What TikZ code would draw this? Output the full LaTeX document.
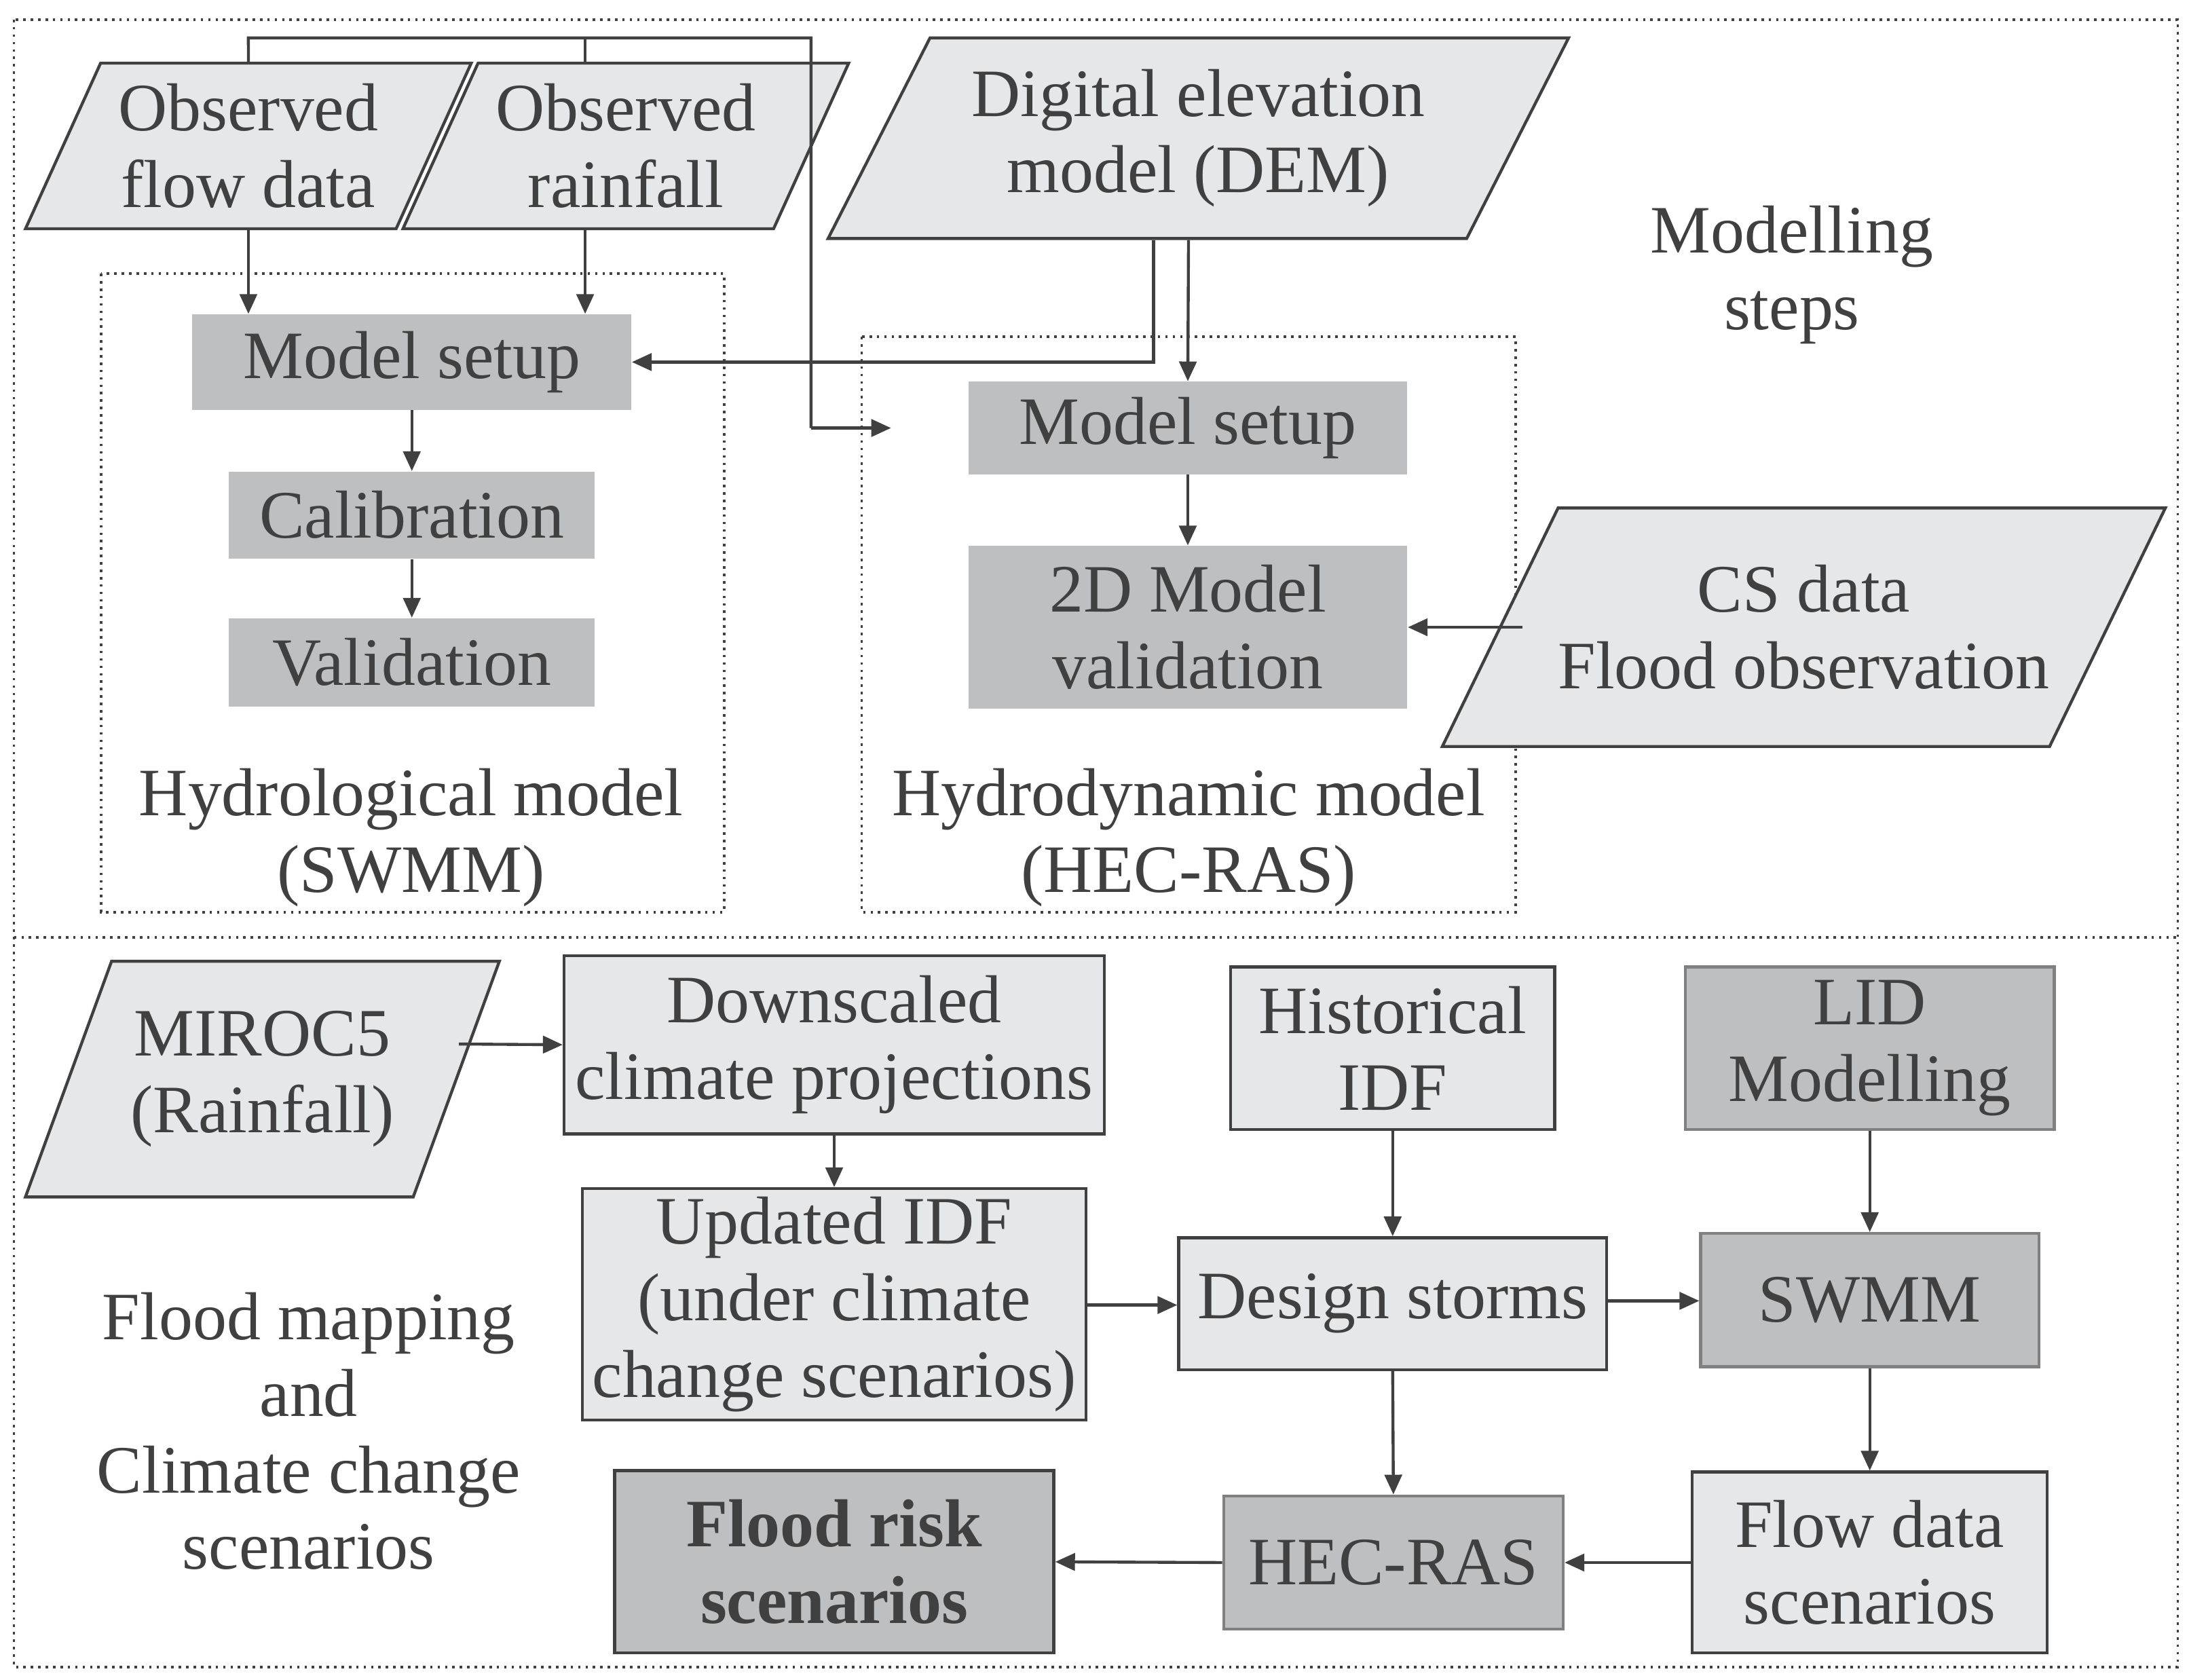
\documentclass[tikz,border=0pt]{standalone}
\usepackage{fontspec}
\setmainfont{Liberation Serif}
\usetikzlibrary{shapes.geometric,arrows.meta}
\definecolor{lg}{HTML}{E6E7E9}
\definecolor{dg}{HTML}{BEBFC1}
\definecolor{ln}{HTML}{404040}
\begin{document}
\begin{tikzpicture}[x=0.02cm,y=-0.02cm,
  every node/.style={font=\fontsize{27.5}{31}\selectfont, text=ln, align=center, inner sep=0pt},
  top/.style={rectangle, fill=dg},
  lbox/.style={rectangle, fill=lg, draw=ln, line width=1.2pt},
  dbox/.style={rectangle, fill=dg, draw=gray, line width=1.2pt},
  para/.style={trapezium, trapezium stretches=true, fill=lg, draw=ln, line width=1.2pt},
  arr/.style={draw=ln, line width=1.2pt, -{Triangle[length=8pt,width=7pt]}},
  ln/.style={draw=ln, line width=1.2pt},
  dot/.style={draw=ln, line width=1pt, dotted}]
\useasboundingbox (0,0) rectangle (1560,1197);
\draw[dot] (10,14) rectangle (1552,1188);
\draw[dot] (10,668) -- (1552,668);
\draw[dot] (72,195) rectangle (516,650);
\draw[dot] (614,240) rectangle (1080,650);
% top
\node[para, trapezium left angle=62, trapezium right angle=118, minimum width=6.36cm, minimum height=2.36cm] (flow) at (177,104) {Observed\\flow data};
\node[para, trapezium left angle=62, trapezium right angle=118, minimum width=6.36cm, minimum height=2.36cm] (rain) at (446,104) {Observed\\rainfall};
\node[para, trapezium left angle=58, trapezium right angle=122, minimum width=10.56cm, minimum height=2.86cm] (dem) at (854,98.5) {Digital elevation\\model (DEM)};
\node[para, trapezium left angle=47, trapezium right angle=133, minimum width=10.3cm, minimum height=3.4cm] (cs) at (1285.5,447) {CS data\\Flood observation};
\node[top, minimum width=6.26cm, minimum height=1.36cm] (ms1) at (293.5,258) {Model setup};
\node[top, minimum width=5.22cm, minimum height=1.24cm] (cal) at (293.5,367) {Calibration};
\node[top, minimum width=5.22cm, minimum height=1.26cm] (val) at (293.5,472) {Validation};
\node[top, minimum width=6.26cm, minimum height=1.32cm] (ms2) at (846.5,305) {Model setup};
\node[top, minimum width=6.26cm, minimum height=2.32cm] (v2d) at (846.5,447) {2D Model\\validation};
\node (hyd) at (293,597) {Hydrological model\\(SWMM)};
\node (hdy) at (847,597) {Hydrodynamic model\\(HEC-RAS)};
\node (ms) at (1277,196) {Modelling\\steps};
\coordinate (tr) at (635,305);
\draw[ln] (flow.north) -- (177,27) -- (578,27) -- (578,305);
\draw[ln] (417,27) -- (417,0 |- rain.north);
\draw[arr] (578,305) -- (tr);
\draw[arr] (flow.south) -- (flow.south |- ms1.north);
\draw[arr] (417,0 |- rain.south) -- (417,0 |- ms1.north);
\draw[arr] (822,0 |- dem.south) -- (822,258) -- (ms1.east);
\draw[arr] (847,0 |- dem.south) -- (ms2.north);
\draw[arr] (ms1.south) -- (cal.north);
\draw[arr] (cal.south) -- (val.north);
\draw[arr] (ms2.south) -- (v2d.north);
\draw[arr] (1085,447) -- (v2d.east);
% bottom
\node[para, trapezium left angle=61, trapezium right angle=119, minimum width=6.76cm, minimum height=3.36cm] (miroc) at (187,769) {MIROC5\\(Rainfall)};
\node[lbox, minimum width=7.7cm, minimum height=2.54cm] (down) at (594.5,744.5) {Downscaled\\climate projections};
\node[lbox, minimum width=7.18cm, minimum height=3.3cm] (upd) at (594.5,929.5) {Updated IDF\\(under climate\\change scenarios)};
\node[lbox, minimum width=4.62cm, minimum height=2.32cm] (hist) at (992.5,747) {Historical\\IDF};
\node[dbox, minimum width=5.26cm, minimum height=2.32cm] (lid) at (1332.5,747) {LID\\Modelling};
\node[lbox, minimum width=6.1cm, minimum height=1.88cm] (des) at (992.5,929) {Design storms};
\node[dbox, minimum width=4.82cm, minimum height=1.9cm] (swmm) at (1332.5,926.5) {SWMM};
\node[lbox, minimum width=5.06cm, minimum height=2.58cm] (fds) at (1332.5,1113.5) {Flow data\\scenarios};
\node[dbox, minimum width=4.84cm, minimum height=1.9cm] (hec) at (993,1113.5) {HEC-RAS};
\node[dbox, draw=ln, minimum width=6.26cm, minimum height=2.6cm, font=\fontsize{27.5}{31}\selectfont\bfseries] (frs) at (594.5,1113) {Flood risk\\scenarios};
\node (fm) at (220,1020) {Flood mapping\\and\\Climate change\\scenarios};
\draw[arr] (327,744) -- (down.west);
\draw[arr] (down.south) -- (upd.north);
\draw[arr] (upd.east |- 0,930) -- (des.west |- 0,930);
\draw[arr] (hist.south) -- (des.north);
\draw[arr] (des.east |- 0,927) -- (swmm.west |- 0,927);
\draw[arr] (lid.south) -- (swmm.north);
\draw[arr] (swmm.south) -- (fds.north);
\draw[arr] (des.south) -- (hec.north);
\draw[arr] (fds.west) -- (hec.east);
\draw[arr] (hec.west) -- (frs.east);
\end{tikzpicture}
\end{document}
